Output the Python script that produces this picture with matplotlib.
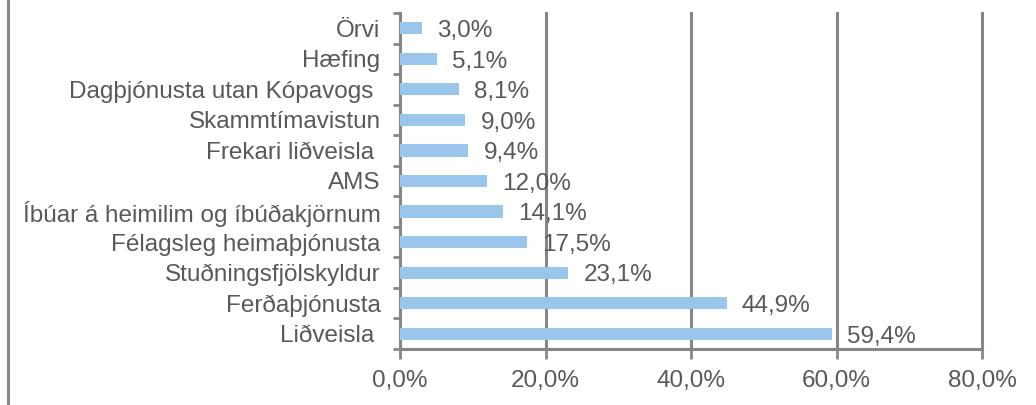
import numpy as np
import matplotlib
matplotlib.use("Agg")
import matplotlib.pyplot as plt
from matplotlib.lines import Line2D

plt.rcParams["font.family"] = ["Liberation Sans", "DejaVu Sans"]

# data (bottom to top)
categories = ["Liðveisla ", "Ferðaþjónusta", "Stuðningsfjölskyldur",
              "Félagsleg heimaþjónusta", "Íbúar á heimilim og íbúðakjörnum",
              "AMS", "Frekari liðveisla ", "Skammtímavistun",
              "Dagþjónusta utan Kópavogs ", "Hæfing", "Örvi"]
values = [59.4, 44.9, 23.1, 17.5, 14.1, 12.0, 9.4, 9.0, 8.1, 5.1, 3.0]
xticks = [0, 20, 40, 60, 80]

bar_color = "#99C6EA"
grid_color = "#868686"
text_color = "#595959"
fs = 17.5

fig = plt.figure(figsize=(10.36, 4.05), dpi=100)
ax = fig.add_axes([400 / 1036, 1 - 349 / 405, 582 / 1036, 336 / 405])

y = np.arange(len(categories))
ax.barh(y, values, height=0.4, color=bar_color, zorder=3)

for yi, v in zip(y, values):
    ax.annotate(f"{v:.1f}%".replace(".", ","), (v, yi), xytext=(11, -2),
                textcoords="offset points", va="center", ha="left",
                fontsize=fs, color=text_color, zorder=4)

ax.set_xlim(0, 80)
ax.set_ylim(-0.5, len(categories) - 0.5)
ax.set_xticks(xticks)
ax.set_xticklabels([f"{t:.1f}%".replace(".", ",") for t in xticks])
ax.set_yticks(y)
ax.set_yticklabels(categories)
ax.set_yticks(np.arange(-0.5, len(categories), 1), minor=True)

for t in xticks[1:]:
    ax.axvline(t, color=grid_color, lw=2.2, zorder=1, clip_on=False)

for s in ["top", "right"]:
    ax.spines[s].set_visible(False)
for s in ["left", "bottom"]:
    ax.spines[s].set_color(grid_color)
    ax.spines[s].set_linewidth(2.2)

ax.tick_params(axis="y", which="major", length=0, pad=14,
               labelsize=fs, labelcolor=text_color)
ax.tick_params(axis="y", which="minor", length=5, width=2, color=grid_color)
ax.tick_params(axis="x", length=7, width=2, color=grid_color, pad=8,
               labelsize=fs, labelcolor=text_color)

# left border of the chart area
fig.add_artist(Line2D([7.5 / 1036, 7.5 / 1036], [0, 1], color=grid_color,
                      lw=2.2, transform=fig.transFigure))

fig.savefig("out.png", dpi=100)
